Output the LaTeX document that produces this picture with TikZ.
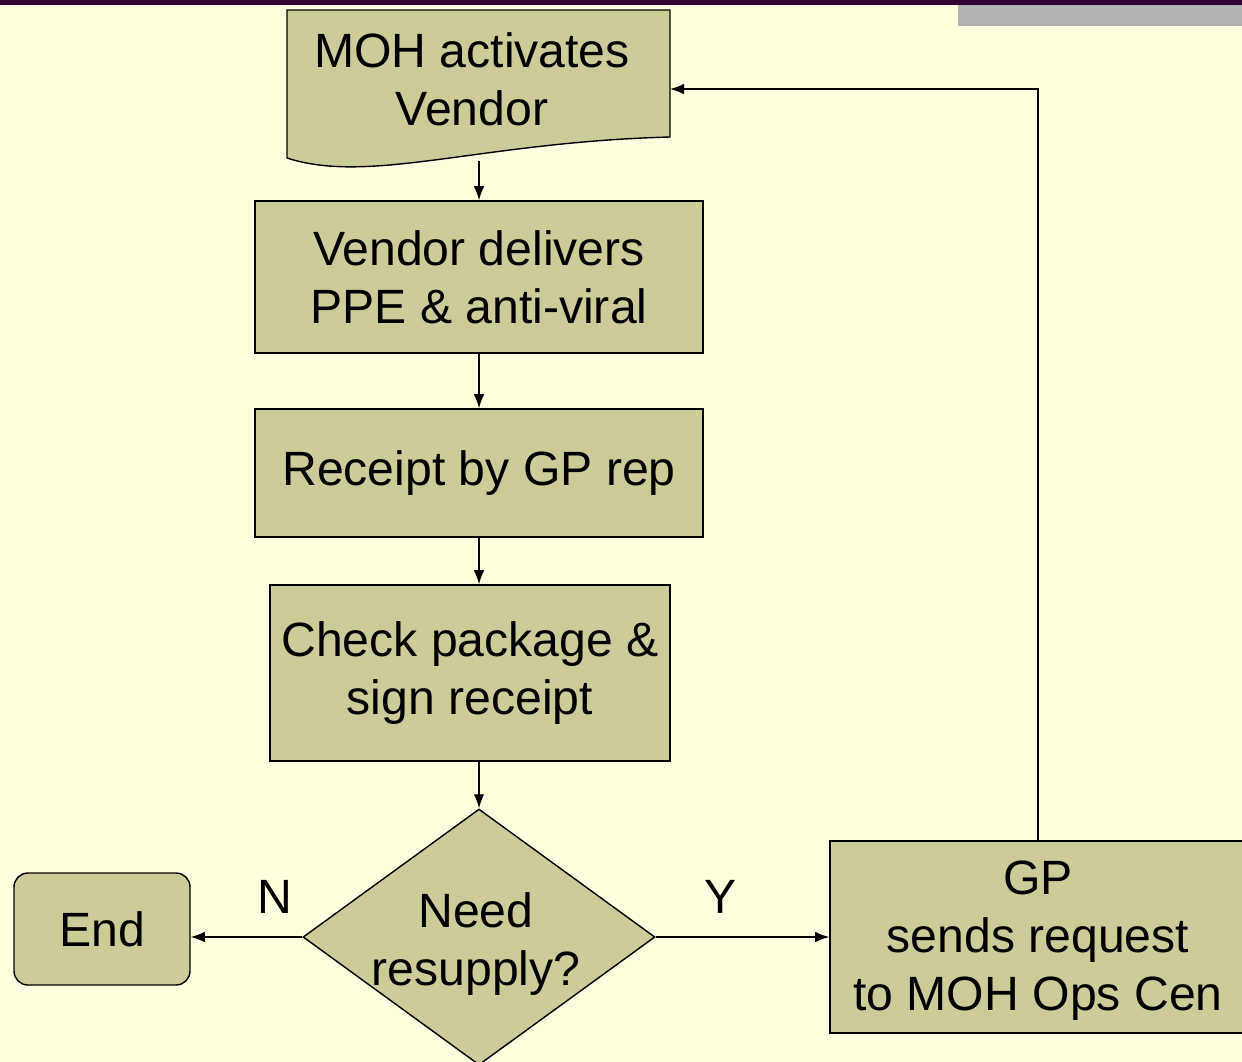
\documentclass[tikz,border=0pt]{standalone}
\usepackage{fontspec}
\setmainfont{Liberation Sans}
\usetikzlibrary{shapes.geometric,arrows.meta}
\definecolor{bgcol}{HTML}{FFFFE0}
\definecolor{boxcol}{HTML}{CCCC99}
\definecolor{topbar}{HTML}{330033}
\definecolor{greybar}{HTML}{B2B2B2}
\tikzset{
  boxtext/.style={font=\fontsize{27.4}{33}\selectfont, align=center, inner sep=0pt},
  procbox/.style={boxtext, draw=black, fill=boxcol, line width=0.8pt},
  flowarrow/.style={draw=black, line width=0.8pt, -{Latex[length=8pt,width=6pt]}},
  lbl/.style={font=\fontsize{27.4}{33}\selectfont, inner sep=0pt}
}
\begin{document}
\begin{tikzpicture}[x=0.02cm,y=-0.02cm]
\useasboundingbox (0,0) rectangle (1242,1062);
\fill[bgcol] (0,0) rectangle (1242,1062);
\fill[greybar] (958,4) rectangle (1242,26);
\fill[topbar] (0,0) rectangle (1242,4.5);
% document shape
\draw[fill=boxcol, line width=0.8pt] (287,10) -- (670,10) -- (670,137)
  .. controls (480,142) and (370,185) .. (287,158) -- cycle;
\node[boxtext] (doc) at (472,79) {MOH activates\\Vendor};
\coordinate (docbot) at (479,161);
\coordinate (docright) at (670,89);
% process boxes
\node[procbox, minimum width=448*0.02cm, minimum height=152*0.02cm] (deliver) at (479,277) {Vendor delivers\\PPE \& anti-viral};
\node[procbox, minimum width=448*0.02cm, minimum height=128*0.02cm] (receipt) at (479,473) {Receipt by GP rep};
\node[procbox, minimum width=400*0.02cm, minimum height=176*0.02cm] (check) at (470,673) {Check package \&\\sign receipt};
\node[procbox, diamond, aspect=1.375, minimum width=352*0.02cm, minimum height=256*0.02cm] (need) at (479,937) {};
\node[boxtext] (needtext) at (476,944) {Need\\resupply?};
\node[procbox, rounded corners=14*0.02cm, minimum width=176*0.02cm, minimum height=112*0.02cm] (end) at (102,929) {End};
\node[procbox, minimum width=416*0.02cm, minimum height=192*0.02cm] (gp) at (1038,937) {};
\node[boxtext] (gptext) at (1038,941) {GP\\sends request\\to MOH Ops Cen};
% labels
\node[lbl] (nlab) at (275,897) {N};
\node[lbl] (ylab) at (721,897) {Y};
\coordinate (corner) at (1038,89);
% connectors
\draw[flowarrow] (docbot) -- (deliver.north);
\draw[flowarrow] (deliver.south) -- (receipt.north);
\draw[flowarrow] (receipt.south) -- (receipt.south |- check.north);
\draw[flowarrow] (check.south -| need.north) -- (need.north);
\draw[flowarrow] (need.west) -- (end.east |- need.west);
\draw[flowarrow] (need.east) -- (gp.west);
\draw[flowarrow] (gp.north) -- (corner) -- (docright);
\end{tikzpicture}
\end{document}
